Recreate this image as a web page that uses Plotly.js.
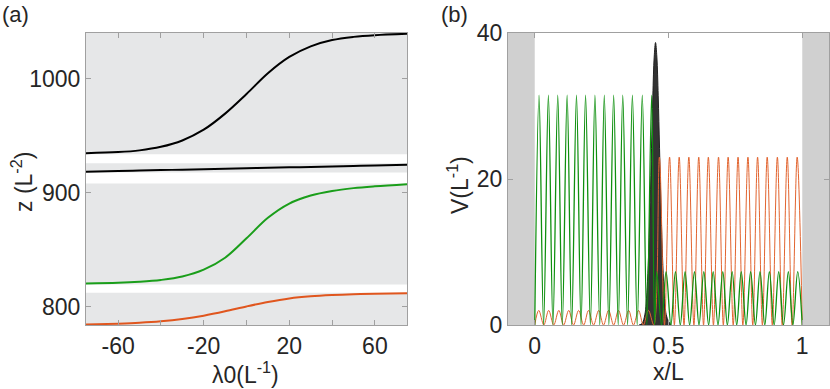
<!DOCTYPE html>
<html>
<head>
<meta charset="utf-8">
<script src="https://cdn.plot.ly/plotly-3.0.1.min.js"></script>
<style>
  html, body { margin: 0; padding: 0; background: #fff; }
  #chart { width: 830px; height: 389px; }
</style>
</head>
<body>
<div id="chart"></div>
<script>
// (a) eigenvalues z vs lambda0
var lam = [-75, -60, -50, -40, -30, -20, -10, 0, 10, 20, 30, 40, 50, 60, 75];
var zBlackTop = [934.6, 935.6, 937.1, 940.2, 945.8, 955.2, 969.3, 986.5, 1004.7, 1019, 1028.3, 1033.8, 1036.6, 1038.1, 1039.3];
var zBlackLow = [918.4, 919.0, 919.4, 919.8, 920.2, 920.6, 921.0, 921.4, 921.8, 922.2, 922.6, 923.0, 923.4, 923.9, 924.5];
var zGreen = [820.4, 821.0, 821.9, 823.5, 826.5, 832.5, 843, 860, 878, 890.5, 897.5, 901.5, 904, 905.6, 907.4];
var zOrange = [784.4, 785.2, 786.0, 787.3, 789.3, 792.2, 796.0, 800.3, 804.2, 807.3, 809.2, 810.3, 811.0, 811.4, 811.9];

// shaded bands of panel (a)
var bandLo = [784, 819.5, 917.6, 933.6];
var bandHi = [812.2, 908, 925.8, 1040];

// (b) potentials V vs x/L
var greenX = [0, 0.016, 0.033, 0.051, 0.068, 0.086, 0.103, 0.121, 0.138, 0.156, 0.173, 0.190, 0.208, 0.225,
  0.243, 0.260, 0.277, 0.295, 0.312, 0.329, 0.347, 0.365, 0.383, 0.402, 0.419, 0.437, 0.448,
  0.456, 0.474, 0.491, 0.509, 0.526, 0.544, 0.562, 0.579, 0.597, 0.614, 0.632, 0.650, 0.667, 0.685,
  0.703, 0.720, 0.738, 0.755, 0.772, 0.790, 0.807, 0.825, 0.842, 0.860, 0.877, 0.895, 0.912, 0.930,
  0.948, 0.965, 0.983, 1.0];
var greenV = [0, 31.5, 0, 31.5, 0, 31.5, 0, 31.5, 0, 31.5, 0, 31.5, 0, 31.5,
  0, 31.5, 0, 31.5, 0, 31.5, 0, 31.5, 0, 31.5, 0, 31.5, 0,
  7.3, 0, 7.3, 0, 7.3, 0, 7.3, 0, 7.3, 0, 7.3, 0, 7.3, 0,
  7.3, 0, 7.3, 0, 7.3, 0, 7.3, 0, 7.3, 0, 7.3, 0, 7.3, 0,
  7.3, 0, 7.3, 0];

var orangeX = [0, 0.015, 0.034, 0.052, 0.071, 0.090, 0.108, 0.127, 0.145, 0.164, 0.183, 0.201, 0.220, 0.239,
  0.257, 0.276, 0.295, 0.313, 0.332, 0.351, 0.369, 0.388, 0.406, 0.425, 0.445,
  0.466, 0.485, 0.504, 0.522, 0.540, 0.558, 0.576, 0.595, 0.613, 0.631, 0.649, 0.668, 0.687, 0.705,
  0.723, 0.742, 0.760, 0.778, 0.797, 0.815, 0.833, 0.851, 0.869, 0.888, 0.907, 0.925, 0.944, 0.962,
  0.981, 1.0];
var orangeV = [0, 2, 0, 2, 0, 2, 0, 2, 0, 2, 0, 2, 0, 2,
  0, 2, 0, 2, 0, 2, 0, 2, 0, 2, 0,
  23, 0, 23, 0, 23, 0, 23, 0, 23, 0, 23, 0, 23, 0,
  23, 0, 23, 0, 23, 0, 23, 0, 23, 0, 23, 0, 23, 0,
  23, 0];

var blackX = [0.39, 0.4015, 0.4115, 0.4165, 0.4215, 0.4265, 0.4315, 0.4365, 0.4415, 0.4465, 0.4515,
  0.4565, 0.4615, 0.4665, 0.4715, 0.4765, 0.4815, 0.4865, 0.4915, 0.50, 0.51];
var blackV = [0, 0.2, 1.4, 3, 6, 10.5, 16.8, 24.2, 31.4, 36.7, 38.7,
  36.7, 31.4, 24.2, 16.8, 10.5, 6, 3, 1.4, 0.5, 0];

// hard walls of panel (b)
var wallLeft = [-0.1, 0];
var wallRight = [1, 1.1];

var font = {family: 'Liberation Sans, Arial, sans-serif', size: 23, color: '#262626'};
var frame = '#a0a0a0';

var data = [
  {x: lam, y: zBlackTop, mode: 'lines', line: {color: '#000', width: 2, shape: 'spline'}, xaxis: 'x', yaxis: 'y'},
  {x: lam, y: zBlackLow, mode: 'lines', line: {color: '#000', width: 2, shape: 'spline'}, xaxis: 'x', yaxis: 'y'},
  {x: lam, y: zGreen, mode: 'lines', line: {color: '#1a9e1a', width: 2, shape: 'spline'}, xaxis: 'x', yaxis: 'y'},
  {x: lam, y: zOrange, mode: 'lines', line: {color: '#e0561e', width: 2, shape: 'spline'}, xaxis: 'x', yaxis: 'y'},
  {x: blackX, y: blackV, mode: 'lines', fill: 'tozeroy', fillcolor: '#333333',
    line: {color: '#222', width: 1, shape: 'spline'}, xaxis: 'x2', yaxis: 'y2'},
  {x: orangeX, y: orangeV, mode: 'lines', line: {color: '#e2642f', width: 1, shape: 'spline'}, xaxis: 'x2', yaxis: 'y2'},
  {x: greenX, y: greenV, mode: 'lines', line: {color: '#0f900f', width: 1.3, shape: 'spline'}, xaxis: 'x2', yaxis: 'y2'}
];

var shapes = [];
for (var i = 0; i < bandLo.length; i++) {
  shapes.push({type: 'rect', layer: 'below', xref: 'x domain', yref: 'y', x0: 0, x1: 1,
    y0: bandLo[i], y1: bandHi[i], fillcolor: '#e6e7e8', line: {width: 0}});
}
[wallLeft, wallRight].forEach(function (w) {
  shapes.push({type: 'rect', layer: 'below', xref: 'x2', yref: 'y2 domain', x0: w[0], x1: w[1],
    y0: 0, y1: 1, fillcolor: '#d0d0d0', line: {width: 0}});
});

function ann(text, x, y, angle, size) {
  return {text: text, xref: 'paper', yref: 'paper', x: x / 830, y: 1 - y / 389,
    xanchor: 'center', yanchor: 'middle', showarrow: false, textangle: angle || 0,
    font: {family: font.family, size: size || 23, color: '#262626'}};
}

var axisCommon = {showline: true, linecolor: frame, linewidth: 1, mirror: 'ticks', ticks: 'inside',
  ticklen: 5, tickcolor: frame, showgrid: false, zeroline: false, tickfont: font};

var layout = {
  width: 830, height: 389,
  margin: {l: 0, r: 0, t: 0, b: 0},
  paper_bgcolor: '#fff', plot_bgcolor: '#fff',
  showlegend: false,
  xaxis: Object.assign({}, axisCommon, {domain: [86 / 830, 407 / 830], range: [-75, 75], anchor: 'y',
    tickvals: [-60, -20, 20, 60], ticktext: ['-60', '-20', '20', '60'],
    minor: {tickvals: [-40, 0, 40], ticks: 'inside', ticklen: 5, tickcolor: frame, showgrid: false}}),
  yaxis: Object.assign({}, axisCommon, {domain: [64 / 389, 356 / 389], range: [784, 1040], anchor: 'x',
    tickvals: [800, 900, 1000], ticktext: ['800', '900', '1000']}),
  xaxis2: Object.assign({}, axisCommon, {domain: [508 / 830, 829 / 830], range: [-0.1, 1.1], anchor: 'y2',
    tickvals: [0, 0.5, 1], ticktext: ['0', '0.5', '1']}),
  yaxis2: Object.assign({}, axisCommon, {domain: [64 / 389, 356 / 389], range: [0, 40], anchor: 'x2',
    tickvals: [0, 20, 40], ticktext: ['0', '20', '40']}),
  shapes: shapes,
  annotations: [
    {text: '(a)', xref: 'paper', yref: 'paper', x: 0, y: 1, xanchor: 'left', yanchor: 'top', showarrow: false,
      font: {family: font.family, size: 22, color: '#262626'}},
    {text: '(b)', xref: 'paper', yref: 'paper', x: 439 / 830, y: 1, xanchor: 'left', yanchor: 'top', showarrow: false,
      font: {family: font.family, size: 22, color: '#262626'}},
    ann('z (L<sup>-2</sup>)', 22, 182, -90),
    ann('λ0(L<sup>-1</sup>)', 245, 373, 0),
    ann('V(L<sup>-1</sup>)', 458, 185, -90),
    ann('x/L', 668, 372, 0)
  ]
};

Plotly.newPlot('chart', data, layout, {staticPlot: true});
</script>
</body>
</html>
